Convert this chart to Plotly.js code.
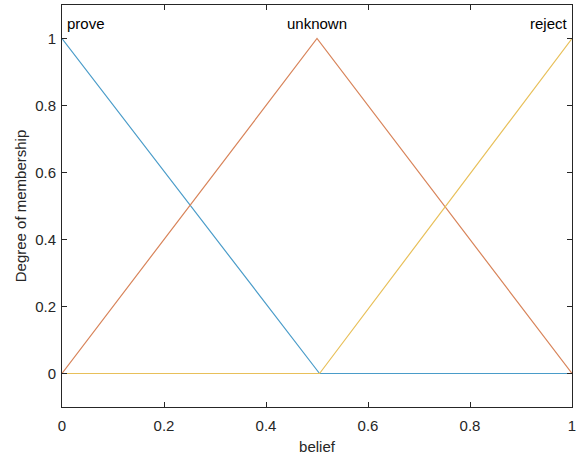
<!DOCTYPE html>
<html>
<head>
<meta charset="utf-8">
<script src="https://cdn.plot.ly/plotly-3.0.1.min.js"></script>
<style>html,body{margin:0;padding:0;background:#fff;}#chart{width:579px;height:461px;}</style>
</head>
<body>
<div id="chart"></div>
<script>
const mfNames = ["prove", "unknown", "reject"];
const proveX = [0, 0.505, 1];
const proveY = [1, 0, 0];
const unknownX = [0, 0.5, 1];
const unknownY = [0, 1, 0];
const rejectX = [0, 0.505, 1];
const rejectY = [0, 0, 1];
const labelX = [0, 0.5, 1];
const labelY = 1.045;
const xTicks = [0, 0.2, 0.4, 0.6, 0.8, 1];
const yTicks = [0, 0.2, 0.4, 0.6, 0.8, 1];
const colors = ["#4a9cc9", "#d8845a", "#e8c05a"];
const FONT = "Liberation Sans, Arial, sans-serif";

const traces = [
  {x: proveX, y: proveY, name: mfNames[0]},
  {x: unknownX, y: unknownY, name: mfNames[1]},
  {x: rejectX, y: rejectY, name: mfNames[2]}
].map((t, i) => Object.assign(t, {type: "scatter", mode: "lines", line: {color: colors[i], width: 1.2}, hoverinfo: "none"}));

const anchors = ["left", "center", "right"];
const annotations = mfNames.map((n, i) => ({
  x: labelX[i], y: labelY, xref: "x", yref: "y", text: n, showarrow: false,
  xanchor: anchors[i], yanchor: "middle", xshift: i === 0 ? 3 : (i === 2 ? -2 : 0),
  font: {family: FONT, size: 15, color: "#000"}
}));

const axisCommon = {
  showgrid: false, zeroline: false, showline: true, mirror: "ticks",
  linecolor: "#262626", linewidth: 1, ticks: "inside", ticklen: 5, tickcolor: "#262626",
  tickfont: {family: FONT, size: 15, color: "#262626"}
};

const layout = {
  width: 579, height: 461,
  margin: {l: 62, r: 7, t: 5, b: 54},
  paper_bgcolor: "#fff", plot_bgcolor: "#fff",
  showlegend: false,
  xaxis: Object.assign({}, axisCommon, {
    range: [0, 1], tickvals: xTicks, ticktext: xTicks.map(String), ticklabelstandoff: 5,
    title: {text: "belief", standoff: 8, font: {family: FONT, size: 15, color: "#262626"}}
  }),
  yaxis: Object.assign({}, axisCommon, {
    range: [-0.1, 1.1], tickvals: yTicks, ticktext: yTicks.map(String), ticklabelstandoff: 2,
    title: {text: "Degree of membership", standoff: 4, font: {family: FONT, size: 15, color: "#262626"}}
  }),
  annotations: annotations
};

Plotly.newPlot("chart", traces, layout, {displayModeBar: false, staticPlot: true});
</script>
</body>
</html>
